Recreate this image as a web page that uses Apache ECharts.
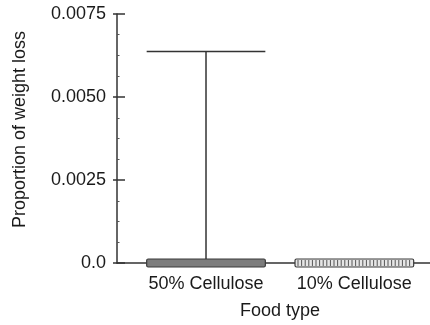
<!DOCTYPE html>
<html>
<head>
<meta charset="utf-8">
<script src="https://cdn.jsdelivr.net/npm/echarts@6/dist/echarts.min.js"></script>
<style>html,body{margin:0;padding:0;background:#fff;}#c{width:430px;height:325px;}</style>
</head>
<body>
<div id="c"></div>
<script>
const categories = ['50% Cellulose', '10% Cellulose'];
const meanValues = [0.00012, 0.00012];
const upperError = [0.00637, null];
const yTickValues = [0, 0.0025, 0.005, 0.0075];
const yTickLabels = ['0.0', '0.0025', '0.0050', '0.0075'];

const FONT = '"Liberation Sans", Arial, Helvetica, sans-serif';
const TXT = '#1a1a1a';
const AX = '#333';
const HALF = 0.4;

const barData = categories.map((c, i) => [i, meanValues[i], upperError[i] == null ? '-' : upperError[i]]);

function renderBar(params, api) {
  const i = params.dataIndex;
  const x = api.value(0), m = api.value(1);
  const tl = api.coord([x - HALF, m]);
  const br = api.coord([x + HALF, 0]);
  const h = br[1] - tl[1];
  const w = br[0] - tl[0];
  const children = [];
  if (i === 0) {
    children.push({type: 'rect', shape: {x: tl[0], y: tl[1], width: w, height: 2 * h, r: 1.5},
      style: {fill: '#7d7d7d', stroke: '#3a3a3a', lineWidth: 1.2}});
  } else {
    children.push({type: 'rect', shape: {x: tl[0], y: tl[1], width: w, height: 2 * h, r: 1.5},
      style: {fill: '#e6e6e6', stroke: '#3a3a3a', lineWidth: 1.2}});
    for (let px = tl[0] + 3; px < br[0] - 1; px += 3.6) {
      children.push({type: 'line', shape: {x1: px, y1: tl[1] + 1, x2: px, y2: tl[1] + 2 * h - 1},
        style: {stroke: '#555', lineWidth: 1}});
    }
  }
  const up = upperError[i];
  if (up != null) {
    const c0 = api.coord([x, m]);
    const c1 = api.coord([x, up]);
    const capL = api.coord([x - HALF, up]);
    const capR = api.coord([x + HALF, up]);
    children.push({type: 'line', shape: {x1: c0[0], y1: c0[1], x2: c1[0], y2: c1[1]}, style: {stroke: AX, lineWidth: 1.5}});
    children.push({type: 'line', shape: {x1: capL[0], y1: capL[1], x2: capR[0], y2: capR[1]}, style: {stroke: AX, lineWidth: 1.5}});
  }
  return {type: 'group', children};
}

const chart = echarts.init(document.getElementById('c'), null, {renderer: 'canvas'});
chart.setOption({
  animation: false,
  backgroundColor: '#fff',
  grid: {left: 117, right: 0, top: 14, bottom: 62},
  xAxis: {
    type: 'value', min: -0.6, max: 1.51,
    splitLine: {show: false},
    axisLine: {show: true, onZero: false, lineStyle: {color: AX, width: 1.5}},
    axisTick: {show: false},
    axisLabel: {customValues: [0, 1], formatter: v => categories[Math.round(v)] || '', color: TXT,
      fontFamily: FONT, fontSize: 18, margin: 12},
    name: 'Food type', nameLocation: 'middle', nameGap: 39,
    nameTextStyle: {color: TXT, fontFamily: FONT, fontSize: 18, padding: [0, 0, 0, 13]}
  },
  yAxis: [{
    type: 'value', min: 0, max: 0.0075, interval: 0.0025,
    splitLine: {show: false},
    axisLine: {show: true, onZero: false, lineStyle: {color: AX, width: 1.5}},
    axisTick: {show: true, length: 4, lineStyle: {color: AX, width: 1.5}},
    axisLabel: {color: TXT, fontFamily: FONT, fontSize: 18, margin: 11,
      formatter: v => { const k = yTickValues.findIndex(t => Math.abs(t - v) < 1e-9); return k >= 0 ? yTickLabels[k] : ''; }},
    name: 'Proportion of weight loss', nameLocation: 'middle', nameGap: 88,
    nameTextStyle: {color: TXT, fontFamily: FONT, fontSize: 18, padding: [0, 0, 0, 18]}
  }, {
    type: 'value', min: 0, max: 0.0075, interval: 0.0025, position: 'left', offset: 0,
    splitLine: {show: false},
    axisLine: {show: false, onZero: false},
    axisLabel: {show: false},
    axisTick: {show: true, inside: true, length: 8, lineStyle: {color: AX, width: 1.5}},
    minorTick: {show: true, splitNumber: 4, length: 2.5, lineStyle: {color: '#555', width: 1}}
  }],
  series: [{
    type: 'custom', xAxisIndex: 0, yAxisIndex: 0, clip: false,
    renderItem: renderBar,
    data: barData,
    z: 5
  }]
});
</script>
</body>
</html>
